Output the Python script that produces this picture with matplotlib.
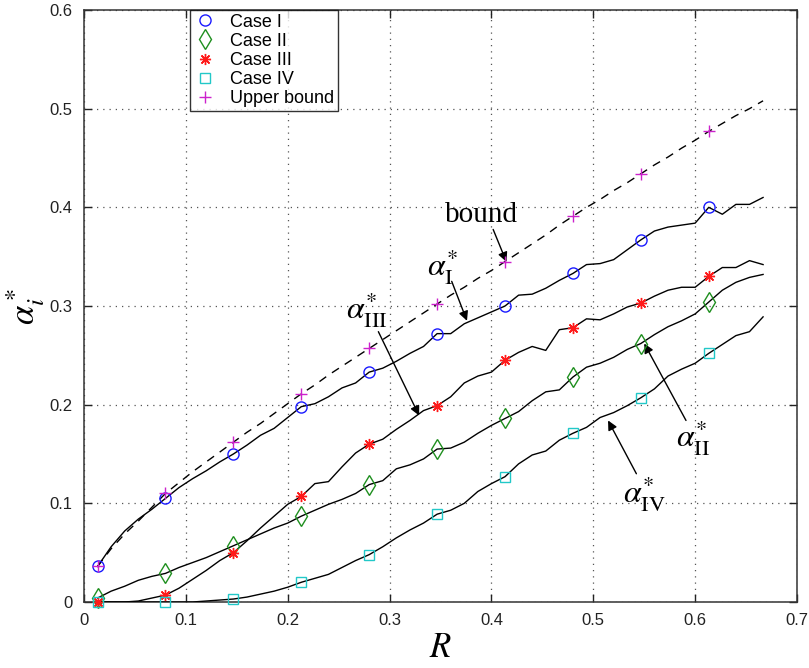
import numpy as np
import matplotlib
matplotlib.use("Agg")
import matplotlib.pyplot as plt

plt.rcParams["mathtext.fontset"] = "stix"
plt.rcParams["font.family"] = ["Liberation Sans", "DejaVu Sans"]

# R grid: k/75 for k = 1..50
R = np.arange(1, 51) / 75.0

case_I = [0.036, 0.056, 0.072, 0.084, 0.094, 0.105, 0.116, 0.125, 0.133, 0.142,
          0.150, 0.159, 0.169, 0.176, 0.187, 0.198, 0.201, 0.208, 0.217, 0.222,
          0.233, 0.237, 0.244, 0.252, 0.259, 0.272, 0.272, 0.282, 0.288, 0.294,
          0.300, 0.311, 0.312, 0.318, 0.326, 0.333, 0.342, 0.343, 0.347, 0.357,
          0.367, 0.376, 0.380, 0.382, 0.384, 0.400, 0.393, 0.403, 0.403, 0.410]

case_II = [0.004, 0.011, 0.016, 0.022, 0.026, 0.029, 0.035, 0.040, 0.045, 0.051,
           0.057, 0.063, 0.069, 0.075, 0.080, 0.087, 0.093, 0.099, 0.104, 0.110,
           0.119, 0.123, 0.135, 0.139, 0.145, 0.155, 0.156, 0.162, 0.171, 0.179,
           0.186, 0.193, 0.204, 0.213, 0.215, 0.228, 0.238, 0.242, 0.248, 0.256,
           0.262, 0.271, 0.279, 0.285, 0.292, 0.304, 0.316, 0.324, 0.329, 0.332]

case_III = [0.000, 0.000, 0.000, 0.001, 0.004, 0.007, 0.014, 0.023, 0.032, 0.042,
            0.050, 0.062, 0.075, 0.087, 0.099, 0.107, 0.120, 0.122, 0.137, 0.151,
            0.160, 0.165, 0.175, 0.184, 0.194, 0.199, 0.208, 0.222, 0.229, 0.233,
            0.245, 0.253, 0.259, 0.255, 0.276, 0.278, 0.287, 0.286, 0.292, 0.299,
            0.303, 0.310, 0.316, 0.319, 0.319, 0.330, 0.339, 0.339, 0.346, 0.342]

case_IV = [0.000, 0.000, 0.000, 0.000, 0.000, 0.000, 0.000, 0.000, 0.001, 0.002,
           0.003, 0.005, 0.008, 0.011, 0.015, 0.020, 0.024, 0.028, 0.035, 0.042,
           0.048, 0.056, 0.065, 0.073, 0.080, 0.089, 0.093, 0.100, 0.112, 0.120,
           0.127, 0.140, 0.149, 0.153, 0.164, 0.171, 0.177, 0.187, 0.192, 0.199,
           0.207, 0.216, 0.229, 0.236, 0.242, 0.252, 0.261, 0.270, 0.274, 0.289]

upper_bound = [0.036, 0.054, 0.069, 0.082, 0.096, 0.110, 0.121, 0.132, 0.142, 0.152,
               0.162, 0.172, 0.181, 0.191, 0.201, 0.211, 0.220, 0.230, 0.239, 0.248,
               0.257, 0.266, 0.275, 0.284, 0.293, 0.302, 0.311, 0.319, 0.328, 0.336,
               0.345, 0.354, 0.363, 0.372, 0.382, 0.391, 0.400, 0.408, 0.417, 0.425,
               0.434, 0.443, 0.451, 0.460, 0.468, 0.477, 0.485, 0.493, 0.500, 0.508]

labels = ["Case I", "Case II", "Case III", "Case IV", "Upper bound"]
xticks = [0, 0.1, 0.2, 0.3, 0.4, 0.5, 0.6, 0.7]
yticks = [0, 0.1, 0.2, 0.3, 0.4, 0.5, 0.6]
xticklabels = ["0", "0.1", "0.2", "0.3", "0.4", "0.5", "0.6", "0.7"]
yticklabels = ["0", "0.1", "0.2", "0.3", "0.4", "0.5", "0.6"]

fig = plt.figure(figsize=(8.09, 6.68), dpi=100)
ax = fig.add_axes([0.1038, 0.0988, 0.8814, 0.8862])

R = np.asarray(R)
series = [np.asarray(s) for s in (case_I, case_II, case_III, case_IV, upper_bound)]

# black curves
for s in series[:4]:
    ax.plot(R, s, color="black", lw=1.0, zorder=3)
ax.plot(R, series[4], color="black", lw=1.0, ls=(0, (6, 5)), zorder=3)

# coloured markers every fifth sample
styles = [
    dict(marker="o", color="#1a1aff", ms=8, mfc="none", mew=1.0),
    dict(marker="d", color="#1f8f1f", ms=10, mfc="none", mew=1.0),
    dict(marker=(8, 2, 0), color="#ff1a1a", ms=8, mew=1.0),
    dict(marker="s", color="#22c8c8", ms=6.5, mfc="none", mew=1.0),
    dict(marker="+", color="#cc22cc", ms=9, mew=1.0),
]
handles = []
for s, st, lab in zip(series, styles, labels):
    h, = ax.plot(R[::5], s[::5], ls="none", label=lab, zorder=4, clip_on=False, **st)
    handles.append(h)

ax.set_xlim(0, 0.7)
ax.set_ylim(0, 0.6)
ax.set_xticks(xticks)
ax.set_yticks(yticks)
ax.set_xticklabels(xticklabels)
ax.set_yticklabels(yticklabels)
ax.tick_params(direction="in", length=6, width=1.0, top=True, right=True,
               labelsize=12, pad=8, colors="#222222")
ax.grid(True, ls=(0, (1, 4)), color="#555555", lw=0.9)
for sp in ax.spines.values():
    sp.set_linewidth(1.1)
    sp.set_color("#333333")

ax.set_xlabel(r"$R$", fontsize=25, labelpad=2)
ax.set_ylabel(r"$\alpha_i^*$", fontsize=25, labelpad=2)

leg = ax.legend(handles=handles, loc="upper left", bbox_to_anchor=(0.149, 1.0),
                fontsize=13, frameon=True, fancybox=False, edgecolor="black",
                handlelength=1.2, handletextpad=0.8, labelspacing=0.12,
                borderpad=0.2, borderaxespad=0.0, numpoints=1)
leg.get_frame().set_linewidth(1.0)

arrow = dict(arrowstyle="-|>", color="black", lw=1.0, mutation_scale=14,
             shrinkA=0, shrinkB=0)

ax.text(0.390, 0.392, "bound", fontsize=21, family="Liberation Serif",
        ha="center", va="center")
ax.annotate("", xy=(0.4147, 0.3448), xytext=(0.4017, 0.3776), arrowprops=arrow)

ax.text(0.352, 0.340, r"$\alpha_{\mathrm{I}}^{*}$", fontsize=23, ha="center", va="center")
ax.annotate("", xy=(0.376, 0.285), xytext=(0.361, 0.325), arrowprops=arrow)

ax.text(0.278, 0.296, r"$\alpha_{\mathrm{III}}^{*}$", fontsize=23, ha="center", va="center")
ax.annotate("", xy=(0.329, 0.189), xytext=(0.289, 0.274), arrowprops=arrow)

ax.text(0.598, 0.167, r"$\alpha_{\mathrm{II}}^{*}$", fontsize=23, ha="center", va="center")
ax.annotate("", xy=(0.550, 0.262), xytext=(0.591, 0.184), arrowprops=arrow)

ax.text(0.550, 0.110, r"$\alpha_{\mathrm{IV}}^{*}$", fontsize=23, ha="center", va="center")
ax.annotate("", xy=(0.5145, 0.184), xytext=(0.5423, 0.130), arrowprops=arrow)

fig.savefig("out.png", dpi=100)
